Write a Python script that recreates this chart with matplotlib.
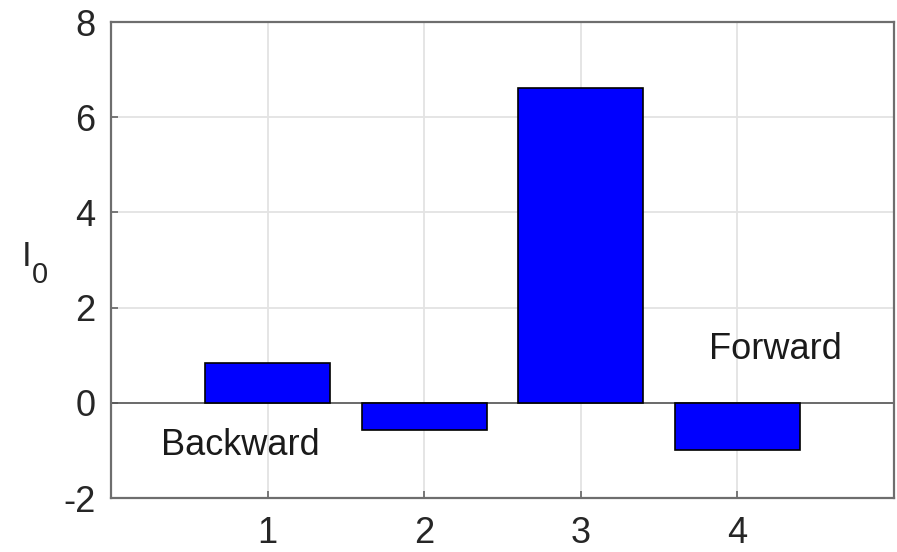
import matplotlib.pyplot as plt
import numpy as np

plt.rcParams['font.family'] = ['Liberation Sans', 'DejaVu Sans']
plt.rcParams['axes.unicode_minus'] = False

# bar values
positions = [1, 2, 3, 4]
values = [0.84, -0.57, 6.62, -1.0]

fig = plt.figure(figsize=(8.97, 5.52), dpi=100)
ax = fig.add_axes([0.1237, 0.0978, 0.8730, 0.8622])

ax.bar(positions, values, width=0.8, color='#0000ff', edgecolor='black',
       linewidth=1.2, zorder=3)
# baseline at zero
ax.axhline(0, color='#555555', linewidth=1.2, zorder=2)

ax.set_xlim(0, 5)
ax.set_ylim(-2, 8)
ax.set_xticks(positions)
ax.set_yticks(np.arange(-2, 9, 2))

ax.grid(True, color='#e3e3e3', linewidth=1.3, zorder=0)
ax.set_axisbelow(True)
for s in ax.spines.values():
    s.set_color('#6e6e6e')
    s.set_linewidth(1.6)
ax.tick_params(direction='in', length=5, width=1.3, color='#6e6e6e',
               labelsize=26, labelcolor='#262626',
               top=False, right=False)
ax.tick_params(axis='x', pad=13)
ax.tick_params(axis='y', pad=11)

ax.text(0.32, -0.9, 'Backward', fontsize=26, color='#1a1a1a',
        va='center', ha='left', zorder=4)
ax.text(3.82, 1.13, 'Forward', fontsize=26, color='#1a1a1a',
        va='center', ha='left', zorder=4)

# y label: I with subscript 0
fig.text(22 / 897, 1 - 266 / 552, 'I', fontsize=25, color='#262626',
         ha='left', va='baseline')
fig.text(32 / 897, 1 - 283 / 552, '0', fontsize=21, color='#262626',
         ha='left', va='baseline')

fig.savefig('out.png', dpi=100)
